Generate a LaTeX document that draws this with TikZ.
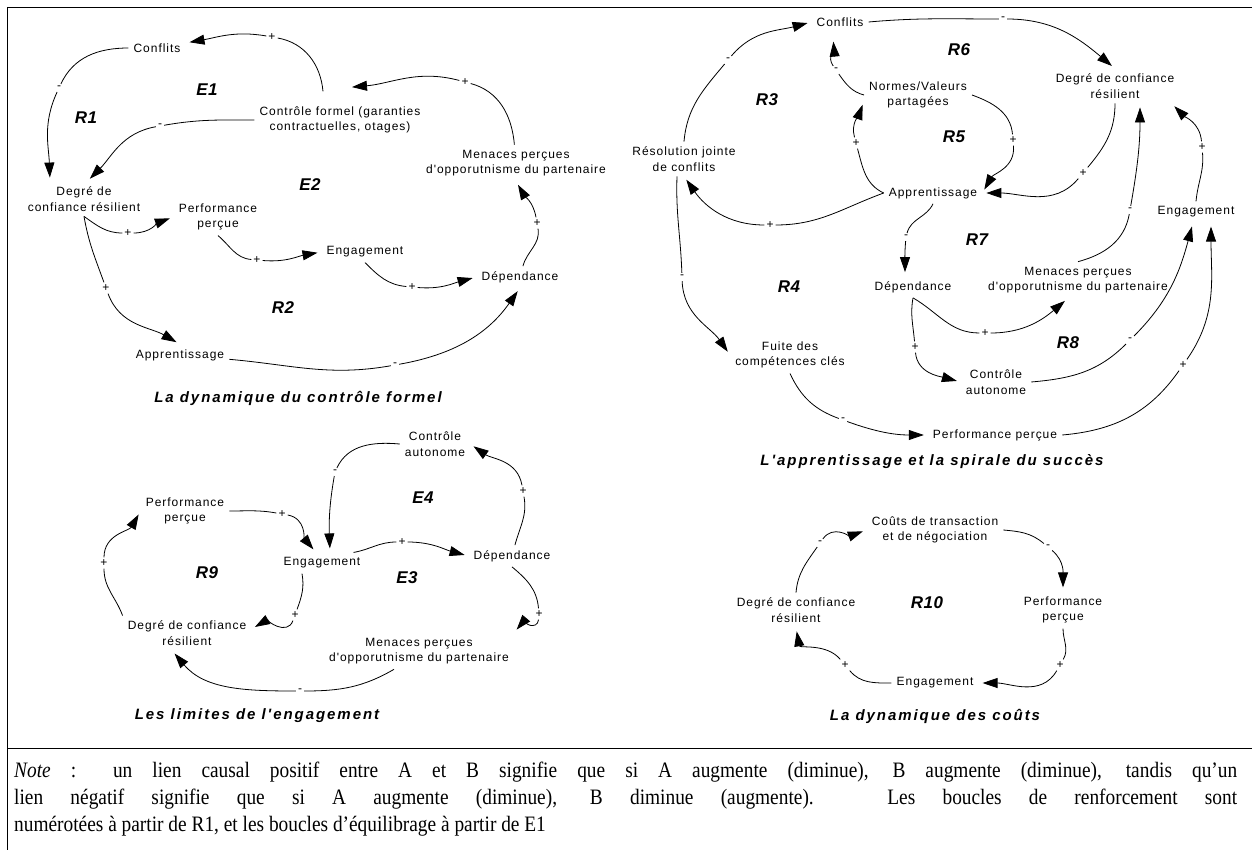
\documentclass[tikz,border=0pt]{standalone}
\usepackage{fontspec}
\setmainfont{Liberation Serif}
\newfontfamily\sansfam[LetterSpace=8]{Liberation Sans}
\newfontfamily\loopfam[LetterSpace=3]{Liberation Sans}
\newfontfamily\capfam[LetterSpace=13]{Liberation Sans}
\newfontfamily\notefam[FakeStretch=0.88]{Liberation Serif}
\newcommand{\varfont}{\sansfam\fontsize{12}{15.5}\selectfont}
\newcommand{\loopfont}{\loopfam\bfseries\itshape\fontsize{17}{17}\selectfont}
\newcommand{\capfont}{\capfam\bfseries\itshape\fontsize{15}{15}\selectfont}
\newcommand{\notefont}{\notefam\fontsize{22}{27}\selectfont}
\usetikzlibrary{arrows.meta}

\begin{document}
\begin{tikzpicture}[x=1pt,y=1pt,
  var/.style={font=\varfont, align=center, inner sep=5pt},
  sgn/.style={font=\varfont, inner sep=2pt},
  loopid/.style={font=\loopfont},
  caption/.style={font=\capfont},
  link/.style={-{Triangle[length=15pt,width=10pt]}, line width=0.8pt, shorten >=4pt},
  note/.style={font=\notefont, text width=1223pt, align=justify, inner sep=0pt}]

\useasboundingbox (0,0) rectangle (1252,-850);

% Frame
\draw[line width=0.8pt] (7,-7) -- (1252,-7);
\draw[line width=0.8pt] (7,-7) -- (7,-850);
\draw[line width=0.8pt] (7,-748) -- (1252,-748);

% ---- La dynamique du controle formel ----
\node[var] (conf1) at (157,-48) {Conflits};
\node[var] (ctrl1) at (340,-120) {Contrôle formel (garanties\\contractuelles, otages)};
\node[var] (deg1) at (84,-199) {Degré de\\confiance résilient};
\node[var] (perf1) at (218,-217) {Performance\\perçue};
\node[var] (eng1) at (365,-252) {Engagement};
\node[var] (dep1) at (520,-277) {Dépendance};
\node[var] (men1) at (516,-163) {Menaces perçues\\d'opporutnisme du partenaire};
\node[var] (app1) at (180,-355) {Apprentissage};

\node[loopid] (lE1) at (207,-90) {E1};
\node[loopid] (lR1) at (86,-118) {R1};
\node[loopid] (lE2) at (310,-185) {E2};
\node[loopid] (lR2) at (283,-308) {R2};
\node[caption] (cap1) at (298,-398) {La dynamique du contrôle formel};

\node[sgn] (p1) at (272,-37) {+};
\node[sgn] (p2) at (59,-88) {-};
\node[sgn] (p3) at (160,-126) {-};
\node[sgn] (p4) at (465,-82) {+};
\node[sgn] (p5) at (537,-223) {+};
\node[sgn] (p6) at (128,-233) {+};
\node[sgn] (p7) at (257,-260) {+};
\node[sgn] (p8) at (412,-287) {+};
\node[sgn] (p9) at (106,-288) {+};
\node[sgn] (p10) at (395,-365) {-};

\draw[link] ([shift={(-17,10)}]ctrl1.north) to[out=95,in=-10] (p1) to[out=170,in=10] (conf1);
\draw[link] (conf1) to[out=180,in=65] (p2) to[out=-115,in=92] ([xshift=-34pt]deg1.north);
\draw[link] (ctrl1) to[out=180,in=10] (p3) to[out=190,in=45] ([xshift=3pt]deg1.north);
\draw[link] (men1) to[out=95,in=-15] (p4) to[out=165,in=5] ([shift={(8,14)}]ctrl1.north);
\draw[link] (dep1) to[out=75,in=-80] (p5) to[out=100,in=-60] (men1.south);
\draw[link] (deg1.south) to[out=-35,in=180] (p6) to[out=0,in=200] (perf1.west);
\draw[link] (perf1.south) to[out=-40,in=175] (p7) to[out=-5,in=190] (eng1.west);
\draw[link] (eng1.south) to[out=-45,in=175] (p8) to[out=-5,in=195] (dep1.west);
\draw[link] (deg1.south) to[out=-80,in=110] (p9) to[out=-70,in=150] (app1.north);
\draw[link] (app1) to[out=-5,in=190] (p10) to[out=10,in=-125] (dep1.south);

% ---- L'apprentissage et la spirale du succes ----
\node[var] (conf2) at (840,-22) {Conflits};
\node[var] (norm2) at (918,-95) {Normes/Valeurs\\partagées};
\node[var] (deg2) at (1115,-86) {Degré de confiance\\résilient};
\node[var] (res2) at (684,-159) {Résolution jointe\\de conflits};
\node[var] (app2) at (933,-193) {Apprentissage};
\node[var] (eng2) at (1196,-212) {Engagement};
\node[var] (dep2) at (913,-287) {Dépendance};
\node[var] (men2) at (1078,-280) {Menaces perçues\\d'opporutnisme du partenaire};
\node[var] (fuite2) at (790,-355) {Fuite des\\compétences clés};
\node[var] (ctrl2) at (996,-382) {Contrôle\\autonome};
\node[var] (perf2) at (995,-435) {Performance perçue};

\node[loopid] (lR3) at (767,-100) {R3};
\node[loopid] (lR6) at (959,-50) {R6};
\node[loopid] (lR5) at (954,-137) {R5};
\node[loopid] (lR4) at (789,-287) {R4};
\node[loopid] (lR7) at (977,-240) {R7};
\node[loopid] (lR8) at (1068,-343) {R8};
\node[caption] (cap2) at (932,-462) {L'apprentissage et la spirale du succès};

\node[sgn] (q1) at (728,-60) {-};
\node[sgn] (q2) at (836,-70) {-};
\node[sgn] (q3) at (1003,-19) {-};
\node[sgn] (q4) at (856,-143) {+};
\node[sgn] (q5) at (770,-225) {+};
\node[sgn] (q6) at (682,-277) {-};
\node[sgn] (q7) at (1013,-140) {+};
\node[sgn] (q8) at (1083,-173) {+};
\node[sgn] (q9) at (1202,-147) {+};
\node[sgn] (q10) at (1130,-210) {-};
\node[sgn] (q11) at (906,-237) {-};
\node[sgn] (q12) at (985,-333) {+};
\node[sgn] (q13) at (915,-347) {+};
\node[sgn] (q14) at (1130,-340) {-};
\node[sgn] (q15) at (1183,-365) {+};
\node[sgn] (q16) at (843,-420) {-};

\draw[link] (res2.north) to[out=85,in=-130] (q1) to[out=50,in=195] (conf2.west);
\draw[link] (norm2.west) to[out=165,in=-55] (q2) to[out=125,in=-85] ([shift={(-7,-6)}]conf2.south);
\draw[link] (conf2.east) to[out=5,in=180] (q3) to[out=0,in=140] (deg2.north);
\draw[link] (app2.west) to[out=155,in=-75] (q4) to[out=105,in=-110] ([yshift=-6pt]norm2.west);
\draw[link] (app2.west) to[out=200,in=0] (q5) to[out=180,in=-55] (res2.south);
\draw[link] ([xshift=-7pt]res2.south) to[out=-92,in=92] (q6) to[out=-88,in=125] (fuite2.west);
\draw[link] (norm2.east) to[out=-20,in=95] (q7) to[out=-85,in=60] (app2.east);
\draw[link] (deg2.south) to[out=-90,in=50] (q8) to[out=230,in=0] (app2.east);
\draw[link] (eng2.north) to[out=85,in=-85] (q9) to[out=95,in=-45] ([xshift=-8pt]deg2.south east);
\draw[link] (men2.north) to[out=15,in=-100] (q10) to[out=80,in=-90] ([xshift=25pt]deg2.south);
\draw[link] (app2.south) to[out=-115,in=75] (q11) to[out=-95,in=90] ([xshift=-8pt]dep2.north);
\draw[link] (dep2.south) to[out=-30,in=180] (q12) to[out=0,in=-140] ([xshift=-10pt]men2.south);
\draw[link] (dep2.south) to[out=-100,in=95] (q13) to[out=-85,in=165] (ctrl2.west);
\draw[link] (ctrl2.east) to[out=5,in=-135] (q14) to[out=45,in=-105] ([xshift=-3pt]eng2.south);
\draw[link] (perf2.east) to[out=5,in=-125] (q15) to[out=55,in=-90] ([xshift=15pt]eng2.south);
\draw[link] (fuite2.south) to[out=-65,in=160] (q16) to[out=-20,in=180] (perf2.west);

% ---- Les limites de l'engagement ----
\node[var] (perf3) at (185,-511) {Performance\\perçue};
\node[var] (eng3) at (322,-563) {Engagement};
\node[var] (ctrl3) at (435,-444) {Contrôle\\autonome};
\node[var] (dep3) at (512,-556) {Dépendance};
\node[var] (deg3) at (187,-633) {Degré de confiance\\résilient};
\node[var] (men3) at (419,-651) {Menaces perçues\\d'opporutnisme du partenaire};

\node[loopid] (lR9) at (207,-573) {R9};
\node[loopid] (lE4) at (423,-498) {E4};
\node[loopid] (lE3) at (407,-578) {E3};
\node[caption] (cap3) at (257,-716) {Les limites de l'engagement};

\node[sgn] (r1) at (282,-514) {+};
\node[sgn] (r2) at (335,-472) {-};
\node[sgn] (r3) at (402,-542) {+};
\node[sgn] (r4) at (523,-491) {+};
\node[sgn] (r5) at (539,-614) {+};
\node[sgn] (r6) at (295,-615) {+};
\node[sgn] (r7) at (300,-691) {-};
\node[sgn] (r8) at (104,-563) {+};

\draw[link] (perf3.east) to[out=0,in=170] (r1) to[out=-10,in=130] ([xshift=-6pt]eng3.north);
\draw[link] (ctrl3.west) to[out=175,in=65] (r2) to[out=-100,in=92] ([xshift=8pt]eng3.north);
\draw[link] ([xshift=-12pt]eng3.north east) to[out=10,in=180] (r3) to[out=0,in=165] (dep3.west);
\draw[link] (dep3) to[out=75,in=-80] (r4) to[out=100,in=-35] (ctrl3.east);
\draw[link] (dep3.south) to[out=-40,in=95] (r5) to[out=-95,in=50] (men3.north east);
\draw[link] ([xshift=-20pt]eng3.south) to[out=-80,in=70] (r6) to[out=-110,in=30] ([yshift=4pt]deg3.east);
\draw[link] ([xshift=-25pt]men3.south) to[out=-150,in=0] (r7) to[out=180,in=-50] ([xshift=-15pt]deg3.south);
\draw[link] (deg3.north west) to[out=110,in=-90] (r8) to[out=90,in=-120] (perf3.west);

% ---- La dynamique des couts ----
\node[var] (cost4) at (935,-530) {Coûts de transaction\\et de négociation};
\node[var] (deg4) at (796,-610) {Degré de confiance\\résilient};
\node[var] (perf4) at (1063,-610) {Performance\\perçue};
\node[var] (eng4) at (935,-683) {Engagement};

\node[loopid] (lR10) at (927,-603) {R10};
\node[caption] (cap4) at (935,-716) {La dynamique des coûts};

\node[sgn] (w1) at (820,-543) {-};
\node[sgn] (w2) at (1048,-547) {-};
\node[sgn] (w3) at (1060,-665) {+};
\node[sgn] (w4) at (845,-665) {+};

\draw[link] (deg4.north) to[out=85,in=-125] (w1) to[out=55,in=200] (cost4.west);
\draw[link] (cost4.east) to[out=-5,in=140] (w2) to[out=-40,in=90] (perf4.north);
\draw[link] (perf4.south) to[out=-90,in=60] (w3) to[out=-120,in=0] (eng4.east);
\draw[link] (eng4.west) to[out=180,in=-50] (w4) to[out=130,in=-80] (deg4.south);

% Note
\node[note, anchor=north west] (note) at (14,-762) {\textit{Note}~: un lien causal positif entre A et B signifie que si A augmente (diminue), B augmente (diminue), tandis qu’un\linebreak lien négatif signifie que si A augmente (diminue), B diminue (augmente). Les boucles de renforcement sont\linebreak numérotées à partir de R1, et les boucles d’équilibrage à partir de E1};

\end{tikzpicture}
\end{document}
